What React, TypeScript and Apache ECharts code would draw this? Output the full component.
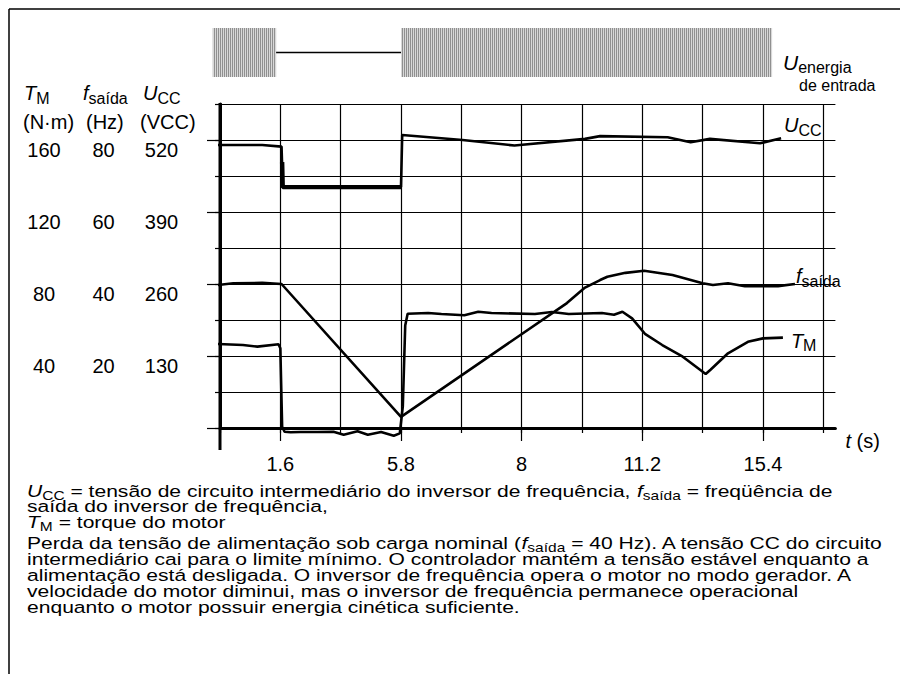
import React, { useEffect, useRef } from "react";
import * as echarts from "echarts";

const FONT = '"Liberation Sans", Arial, Helvetica, sans-serif';

// Time axis: evenly spaced grid positions, labelled with the measured instants (s)
const timeTickPos = [1, 3, 5, 7, 9];
const timeTickLabels = ["1.6", "5.8", "8", "11.2", "15.4"];
const timeGridPos = [0, 1, 2, 3, 4, 5, 6, 7, 8, 9, 10];

// Left-hand scales (each row shares one gridline)
const torqueLabels = [40, 80, 120, 160]; // N·m
const freqLabels = [20, 40, 60, 80]; // Hz
const freqMajorTicks = [0, 20, 40, 60, 80];
const voltLabels = [130, 260, 390, 520]; // VCC

// Intermediate circuit voltage U_CC [time position, VCC]
const uccValues: [number, number][] = [
  [-0.05, 511], [0.7, 511], [1.02, 508], [1.04, 435], [3.0, 435], [3.02, 529],
  [4.02, 520], [4.88, 510], [6.05, 522], [6.3, 527], [7.42, 525], [7.8, 516],
  [8.12, 522], [8.95, 514], [9.3, 523],
];
// Held minimum while the supply is off (drawn heavier)
const uccHoldValues: [number, number][] = [
  [1.03, 480], [1.04, 435], [3.01, 435],
];

// Output frequency f_saída [time position, Hz]
const freqValues: [number, number][] = [
  [-0.05, 39.7], [0.22, 40.2], [0.7, 40.3], [1.02, 40.0], [3.0, 3.1],
  [5.75, 34.7], [6.05, 39.0], [6.3, 41.1], [6.42, 42.0], [6.72, 43.1],
  [7.03, 43.7], [7.5, 42.5], [8.0, 40.2], [8.17, 39.7], [8.42, 40.2],
  [8.7, 39.4], [9.25, 39.4], [9.53, 40.0],
];

// Motor torque T_M [time position, N·m]
const torqueValues: [number, number][] = [
  [-0.05, 46.7], [0.38, 46.1], [0.62, 45.2], [0.97, 46.5], [1.0, 44.3],
  [1.03, 0.7], [1.07, -2.1], [1.17, -2.4], [1.33, -2.2], [1.62, -2.2],
  [1.88, -2.1], [2.05, -3.7], [2.28, -1.8], [2.45, -3.7], [2.67, -2.2],
  [2.88, -4.3], [2.98, -3.0], [3.03, 12], [3.07, 57], [3.11, 63.5],
  [3.45, 63.9], [3.67, 63.3], [4.05, 62.6], [4.28, 64.6], [4.5, 63.9],
  [5.22, 63.3], [5.5, 64.4], [5.78, 63.3], [6.33, 63.9], [6.53, 62.9],
  [6.67, 64.6], [6.83, 60.9], [7.05, 52.1], [7.33, 46.1], [7.67, 39.6],
  [8.05, 30.0], [8.13, 32.4], [8.42, 41.5], [8.75, 47.9], [9.0, 49.8],
  [9.33, 50.2],
];

// Intervals (time positions) during which the input supply is present
const supplyOn: [number, number][] = [
  [-0.12, 0.93],
  [3.0, 9.15],
];

type Tok = [string, string];
const rich = (parts: Tok[]) => parts.map(([s, t]) => `{${s}|${t}}`).join("");

const labelRich = (size: number, sub: number, lh: number) => ({
  n: { fontSize: size, fontFamily: FONT, color: "#000", lineHeight: lh },
  it: { fontSize: size, fontFamily: FONT, fontStyle: "italic", color: "#000", lineHeight: lh },
  sub: { fontSize: sub, fontFamily: FONT, color: "#000", lineHeight: sub, verticalAlign: "bottom" },
});
const graphicRich = (size: number, sub: number, lh: number) => ({
  n: { fontSize: size, fontFamily: FONT, fill: "#000", lineHeight: lh },
  it: { fontSize: size, fontFamily: FONT, fontStyle: "italic", fill: "#000", lineHeight: lh },
  sub: { fontSize: sub, fontFamily: FONT, fill: "#000", lineHeight: sub, verticalAlign: "bottom" },
});

// Caption lines below the chart
const captionLines: { y: number; parts: Tok[] }[] = [
  { y: 491, parts: [["it", "U"], ["sub", "CC"], ["n", " = tensão de circuito intermediário do inversor de frequência, "], ["it", "f"], ["sub", "saída"], ["n", " = freqüência de"]] },
  { y: 506, parts: [["n", "saída do inversor de frequência,"]] },
  { y: 522, parts: [["it", "T"], ["sub", "M"], ["n", " = torque do motor"]] },
  { y: 543, parts: [["n", "Perda da tensão de alimentação sob carga nominal ("], ["it", "f"], ["sub", "saída"], ["n", " = 40 Hz). A tensão CC do circuito"]] },
  { y: 559, parts: [["n", "intermediário cai para o limite mínimo. O controlador mantém a tensão estável enquanto a"]] },
  { y: 575, parts: [["n", "alimentação está desligada. O inversor de frequência opera o motor no modo gerador. A"]] },
  { y: 591, parts: [["n", "velocidade do motor diminui, mas o inversor de frequência permanece operacional"]] },
  { y: 607, parts: [["n", "enquanto o motor possuir energia cinética suficiente."]] },
];

export default function App() {
  const ref = useRef<HTMLDivElement>(null);

  useEffect(() => {
    if (!ref.current) return;
    const chart = echarts.init(ref.current, undefined, { renderer: "svg" });

    const line = (w: number) => ({ color: "#000", width: w });
    const tickFont = { fontSize: 20, fontFamily: FONT, color: "#000" };

    chart.setOption({
      animation: false,
      grid: { left: 220, top: 104, right: 64.6, bottom: 246, containLabel: false },
      xAxis: [
        {
          type: "value", min: 0, max: 10.2, interval: 1, position: "bottom",
          axisLine: { show: true, onZero: false, lineStyle: line(3) },
          axisTick: { show: true, length: 5, lineStyle: line(1.2), customValues: timeGridPos },
          axisLabel: { show: false },
          splitLine: { show: true, lineStyle: line(1.2) },
          name: "{it|t}{n| (s)}",
          nameLocation: "end",
          nameGap: 10,
          nameTextStyle: {
            verticalAlign: "top", padding: [3, 0, 0, 0],
            rich: labelRich(20, 16, 20),
          },
        },
        {
          type: "value", min: 0, max: 10.2, interval: 1, position: "bottom",
          axisLine: { show: false, onZero: false },
          axisTick: { show: true, length: 13, lineStyle: line(1.2), customValues: timeTickPos },
          axisLabel: {
            show: true, customValues: timeTickPos, margin: 26, ...tickFont,
            formatter: (v: number) => timeTickLabels[timeTickPos.indexOf(Math.round(v))] ?? "",
          },
          splitLine: { show: false },
        },
      ],
      yAxis: [
        {
          type: "value", min: 0, max: 180, interval: 20, position: "left",
          axisLine: { show: true, onZero: false, lineStyle: line(3) },
          axisTick: { show: true, length: 5, lineStyle: line(1.2) },
          axisLabel: {
            show: true, customValues: torqueLabels, align: "center", margin: 176,
            verticalAlign: "top", ...tickFont,
          },
          splitLine: { show: true, lineStyle: line(1.2) },
        },
        {
          type: "value", min: 0, max: 90, interval: 10, position: "left",
          axisLine: { show: false, onZero: false },
          axisTick: { show: true, length: 13, lineStyle: line(1.2), customValues: freqMajorTicks },
          axisLabel: {
            show: true, customValues: freqLabels, align: "center", margin: 116.5,
            verticalAlign: "top", ...tickFont,
          },
          splitLine: { show: false },
        },
        {
          type: "value", min: 0, max: 585, interval: 65, position: "left",
          axisLine: { show: false, onZero: false },
          axisTick: { show: false },
          axisLabel: {
            show: true, customValues: voltLabels, align: "center", margin: 58.5,
            verticalAlign: "top", ...tickFont,
          },
          splitLine: { show: false },
        },
      ],
      series: [
        {
          name: "UCC", type: "line", xAxisIndex: 0, yAxisIndex: 2, data: uccValues,
          symbol: "none", clip: false, lineStyle: line(2.6), silent: true,
          endLabel: {
            show: true, formatter: "{it|U}{sub|CC}", offset: [-5, -13],
            rich: labelRich(20, 16, 26),
          },
        },
        {
          name: "UCC mín", type: "line", xAxisIndex: 0, yAxisIndex: 2, data: uccHoldValues,
          symbol: "none", clip: false, lineStyle: line(4.4), silent: true,
        },
        {
          name: "fsaída", type: "line", xAxisIndex: 0, yAxisIndex: 1, data: freqValues,
          symbol: "none", clip: false, lineStyle: line(2.6), silent: true,
          endLabel: {
            show: true, formatter: "{it|f}{sub|saída}", offset: [-7, -8],
            rich: labelRich(20, 16, 26),
          },
        },
        {
          name: "TM", type: "line", xAxisIndex: 0, yAxisIndex: 0, data: torqueValues,
          symbol: "none", clip: false, lineStyle: line(2.6), silent: true,
          endLabel: {
            show: true, formatter: "{it|T}{sub|M}", offset: [0, 3],
            rich: labelRich(20, 16, 26),
          },
        },
      ],
    });

    // Hatched band standing for the AC input voltage
    const canvas = document.createElement("canvas");
    canvas.width = 2;
    canvas.height = 2;
    const ctx = canvas.getContext("2d")!;
    ctx.fillStyle = "#d8d8d8";
    ctx.fillRect(0, 0, 2, 2);
    ctx.fillStyle = "#909090";
    ctx.fillRect(0, 0, 1, 2);
    const hatch = { image: canvas, repeat: "repeat", imageWidth: 2, imageHeight: 2 };

    const px = (v: number) => chart.convertToPixel({ xAxisIndex: 0 }, v) as number;
    const py0 = chart.convertToPixel({ yAxisIndex: 0 }, 0) as number;
    const pyTop = chart.convertToPixel({ yAxisIndex: 0 }, 180) as number;
    const bandTop = 28;
    const bandH = 49;
    const bandMid = bandTop + bandH / 2;

    const graphics: any[] = [
      // frame
      { type: "line", shape: { x1: 9, y1: 9, x2: 900, y2: 9 }, style: { stroke: "#000", lineWidth: 1.5 } },
      { type: "line", shape: { x1: 9, y1: 9, x2: 9, y2: 674 }, style: { stroke: "#000", lineWidth: 1.5 } },
      // vertical axis continues a little below the time axis
      { type: "line", shape: { x1: px(0), y1: pyTop - 1, x2: px(0), y2: py0 + 22 }, style: { stroke: "#000", lineWidth: 3 } },
    ];

    supplyOn.forEach(([a, b]) => {
      graphics.push({
        type: "rect",
        shape: { x: px(a), y: bandTop, width: px(b) - px(a), height: bandH },
        style: { fill: hatch as any },
      });
    });
    for (let i = 0; i < supplyOn.length - 1; i++) {
      graphics.push({
        type: "line",
        shape: { x1: px(supplyOn[i][1]), y1: bandMid, x2: px(supplyOn[i + 1][0]), y2: bandMid },
        style: { stroke: "#000", lineWidth: 1.5 },
      });
    }

    const txt = (x: number, y: number, parts: Tok[], size: number, sub: number, lh: number, sx = 1) => ({
      type: "text",
      x,
      y,
      scaleX: sx,
      style: {
        text: rich(parts),
        rich: graphicRich(size, sub, lh),
        align: "left",
        verticalAlign: "middle",
      },
    });

    // column headings of the three scales
    graphics.push(txt(24, 93, [["it", "T"], ["sub", "M"]], 20, 16, 26));
    graphics.push(txt(23, 122, [["n", "(N·m)"]], 20, 16, 26));
    graphics.push(txt(83, 93, [["it", "f"], ["sub", "saída"]], 20, 16, 26));
    graphics.push(txt(86, 122, [["n", "(Hz)"]], 20, 16, 26));
    graphics.push(txt(143, 93, [["it", "U"], ["sub", "CC"]], 20, 16, 26));
    graphics.push(txt(140, 122, [["n", "(VCC)"]], 20, 16, 26));

    // input supply label
    graphics.push(txt(783, 62, [["it", "U"], ["sub", "energia"]], 21, 16, 26));
    graphics.push(txt(799, 85, [["n", "de entrada"]], 16, 12, 18));

    // caption set in a wide face
    captionLines.forEach((l) => graphics.push(txt(27, l.y, l.parts, 17, 12.5, 22, 1.24)));

    chart.setOption({ graphic: graphics });

    return () => chart.dispose();
  }, []);

  return (
    <div
      ref={ref}
      style={{ position: "fixed", left: 0, top: 0, width: 900, height: 674, background: "#fff" }}
    />
  );
}
